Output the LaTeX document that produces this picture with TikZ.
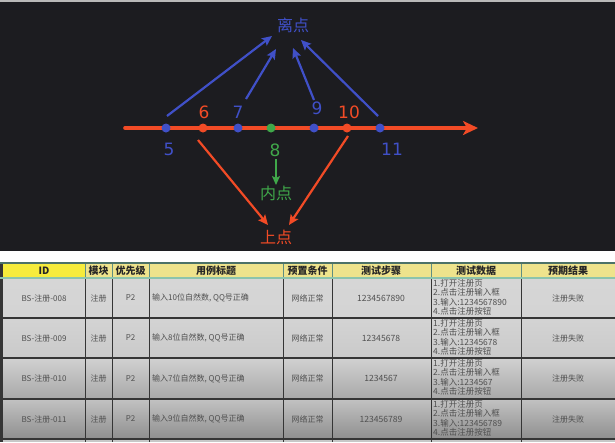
\documentclass[tikz,border=0pt]{standalone}
\usepackage{fontspec}
\setmainfont{DejaVu Sans}
\newfontfamily\cjk{Noto Sans CJK SC}
\usetikzlibrary{arrows.meta}
\definecolor{bg}{HTML}{1C1C20}
\definecolor{myblue}{HTML}{4050C8}
\definecolor{myred}{HTML}{F24B26}
\definecolor{mygreen}{HTML}{40A84A}
\definecolor{hdyellow}{HTML}{EEE38C}
\definecolor{idyellow}{HTML}{F6EC3C}
\definecolor{hdline}{HTML}{5F8F82}
\definecolor{hdbottom}{HTML}{8CC4AC}
\definecolor{gridline}{HTML}{353535}
\definecolor{celltext}{HTML}{505050}
\newcommand\myrow[7]{%
  \shade[top color=#6, bottom color=#7] (3,#1) rectangle (615,#2);
  \node[cell] (id#3) at (44,{(#1+#2)/2}) {BS-注册-#3};
  \node[cell] (mk#3) at (98.5,{(#1+#2)/2}) {注册};
  \node[cell] (pr#3) at (130.5,{(#1+#2)/2}) {P2};
  \node[cell, anchor=west] (tt#3) at (152,{(#1+#2)/2}) {#4};
  \node[cell] (pc#3) at (307.5,{(#1+#2)/2}) {网络正常};
  \node[cell, font=\cjk\fontsize{8.6}{9}\selectfont] (st#3) at (381,{(#1+#2)/2}) {#5};
  \node[tdcell] (tda#3) at (433,#1+5) {1.打开注册页};
  \node[tdcell] (tdb#3) at (433,#1+14.5) {2.点击注册输入框};
  \node[tdcell] (tdc#3) at (433,#1+24) {3.输入:#5};
  \node[tdcell] (tdd#3) at (433,#1+33.5) {4.点击注册按钮};
  \node[cell] (rs#3) at (568,{(#1+#2)/2}) {注册失败};
}
\tikzset{
  dot/.style={circle, inner sep=0pt, minimum size=9pt},
  num/.style={font=\fontsize{17}{17}\selectfont, inner sep=0pt},
  lab/.style={font=\cjk\fontsize{16}{16}\selectfont, inner sep=0pt},
  barrow/.style={myblue, line width=2.2pt, -{Stealth[length=10pt,width=9pt,inset=2pt]}},
  rarrow/.style={myred, line width=2.2pt, -{Stealth[length=10pt,width=9pt,inset=2pt]}},
  garrow/.style={mygreen, line width=2.2pt, -{Stealth[length=9pt,width=8pt,inset=2pt]}},
  cell/.style={font=\cjk\fontsize{8}{9}\selectfont, text=celltext, inner sep=0pt},
  tdcell/.style={font=\cjk\fontsize{8.5}{9}\selectfont, text=celltext, inner sep=0pt, anchor=west},
  hd/.style={font=\cjk\bfseries\fontsize{10}{10}\selectfont, text=black!85, inner sep=0pt},
}
\begin{document}
\begin{tikzpicture}[x=1pt,y=-1pt]
\useasboundingbox (0,0) rectangle (615,442);
% backgrounds
\fill[bg] (0,0) rectangle (615,251);
\fill[gray!55] (0,0) rectangle (615,1.5);
\fill[white] (0,251) rectangle (615,442);

% ---------- number line ----------
\coordinate (axL) at (125,128);
\coordinate (axR) at (478,128);
\draw[myred, line width=3.6pt, line cap=round, -{Stealth[length=15pt,width=14pt,inset=4pt]}] (axL) -- (axR);

\node[dot, fill=myblue]  (p5)  at (166,128) {};
\node[dot, fill=myred]   (p6)  at (203,128) {};
\node[dot, fill=myblue]  (p7)  at (238,128) {};
\node[dot, fill=mygreen] (p8)  at (271,128) {};
\node[dot, fill=myblue]  (p9)  at (314,128) {};
\node[dot, fill=myred]   (p10) at (347,128) {};
\node[dot, fill=myblue]  (p11) at (380,128) {};

\node[num, text=myblue]  (l5)  at (169,149) {5};
\node[num, text=myred]   (l6)  at (204,112.5) {6};
\node[num, text=myblue]  (l7)  at (238,112) {7};
\node[num, text=mygreen] (l8)  at (275,150) {8};
\node[num, text=myblue]  (l9)  at (317,108) {9};
\node[num, text=myred]   (l10) at (349,112.5) {10};
\node[num, text=myblue]  (l11) at (392,149) {11};

\node[lab, text=myblue]  (li)  at (293,25.5) {离点};
\node[lab, text=mygreen] (nei) at (276,193) {内点};
\node[lab, text=myred]   (sh)  at (276,237) {上点};

% connector ends
\coordinate (s5) at (167,116);
\coordinate (s7) at (246,99);
\coordinate (s9) at (314,100);
\coordinate (s11) at (378,116);
\coordinate (e5) at (272,36);
\coordinate (e7) at (276,49);
\coordinate (e9) at (293,48);
\coordinate (e11) at (301,40);
\coordinate (s6) at (198,140);
\coordinate (s10) at (348,136);
\coordinate (e6) at (268,225);
\coordinate (e10) at (289,225);
\coordinate (s8) at (276,159);
\coordinate (e8) at (276,185);

\draw[barrow] (s5) -- (e5);
\draw[barrow] (s7) -- (e7);
\draw[barrow] (s9) -- (e9);
\draw[barrow] (s11) -- (e11);
\draw[rarrow] (s6) -- (e6);
\draw[rarrow] (s10) -- (e10);
\draw[garrow] (s8) -- (e8);

% ---------- table ----------
\fill[hdyellow] (3,263) rectangle (615,278);
\fill[idyellow] (3,263) rectangle (85,278);

\myrow{278}{318}{008}{输入10位自然数, QQ号正确}{1234567890}{black!16}{black!17}
\myrow{318}{358}{009}{输入8位自然数, QQ号正确}{12345678}{black!17}{black!21}
\myrow{358}{399}{010}{输入7位自然数, QQ号正确}{1234567}{black!18}{black!34}
\myrow{399}{439}{011}{输入9位自然数, QQ号正确}{123456789}{black!24}{black!44}
\fill[black!22] (3,439) rectangle (615,442);

% header texts
\node[hd] (hID) at (44,270.5) {ID};
\node[hd] (hMK) at (98.5,270.5) {模块};
\node[hd] (hPR) at (130.5,270.5) {优先级};
\node[hd] (hTT) at (216,270.5) {用例标题};
\node[hd] (hPC) at (307.5,270.5) {预置条件};
\node[hd] (hST) at (381,270.5) {测试步骤};
\node[hd] (hTD) at (476,270.5) {测试数据};
\node[hd] (hRS) at (568,270.5) {预期结果};

% grid lines
\foreach \x in {85,112,149,283,332,431,521}{
  \draw[hdline, line width=1pt] (\x,263) -- (\x,278);
  \draw[gridline, line width=1pt] (\x,278) -- (\x,442);
}
\foreach \y in {318,358,399,439}{
  \draw[gridline, line width=1.2pt] (0,\y) -- (615,\y);
}
\fill[gridline] (0,263) rectangle (2.5,442);
\draw[hdline!80!black, line width=2pt] (0,263) -- (615,263);
\draw[hdbottom, line width=1.6pt] (0,278) -- (615,278);
\end{tikzpicture}
\end{document}
